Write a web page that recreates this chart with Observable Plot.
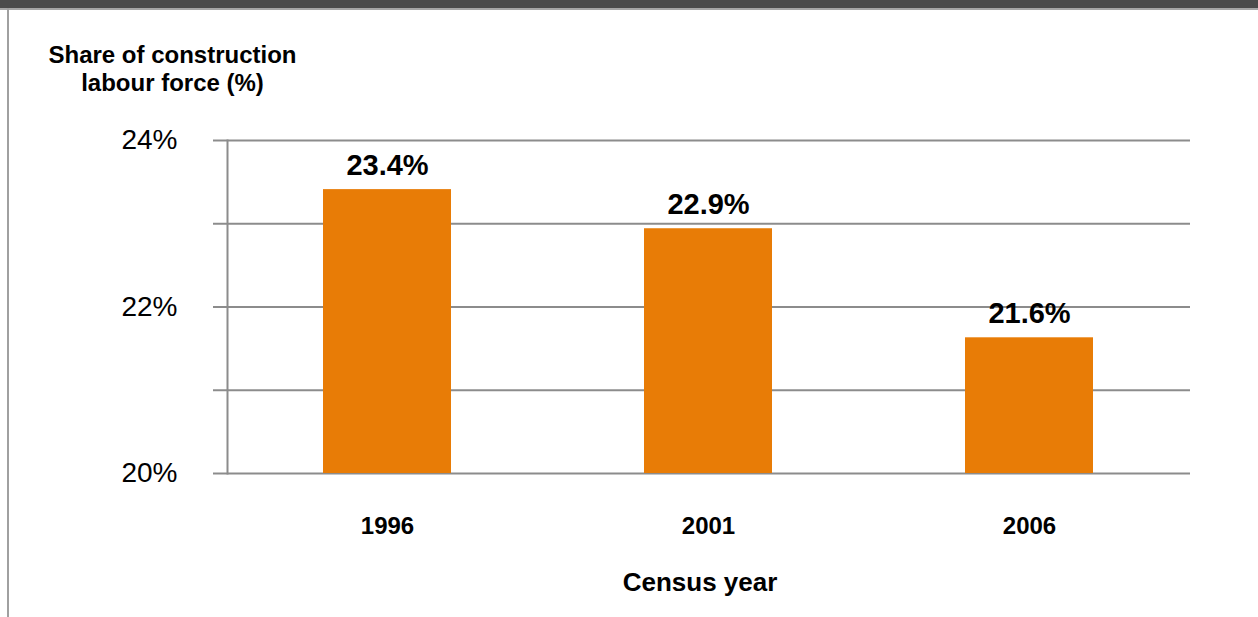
<!DOCTYPE html>
<html>
<head>
<meta charset="utf-8">
<script src="https://cdn.jsdelivr.net/npm/d3@7"></script>
<script src="https://cdn.jsdelivr.net/npm/@observablehq/plot@0.6"></script>
<style>
  html, body { margin: 0; padding: 0; background: #fff; }
  body { width: 1258px; height: 617px; position: relative; overflow: hidden; font-family: Arial, "Liberation Sans", sans-serif; }
  #header { position: absolute; left: 0; top: 0; width: 1258px; height: 8px; background: #4b4b4b; border-bottom: 2px solid #a6a6a6; }
  #leftline { position: absolute; left: 7px; top: 8px; width: 2px; height: 609px; background: #a0a0a0; }
  #chart { position: absolute; left: 0; top: 0; }
  #ytitle { position: absolute; left: 0; top: 41px; width: 345px; text-align: center; font-weight: bold; font-size: 24px; line-height: 28px; color: #000; }
  #xtitle { position: absolute; left: 550px; top: 567px; width: 300px; text-align: center; font-weight: bold; font-size: 26px; line-height: 30px; color: #000; }
</style>
</head>
<body>
<div id="header"></div>
<div id="leftline"></div>
<div id="chart"></div>
<div id="ytitle">Share of construction<br>labour force (%)</div>
<div id="xtitle">Census year</div>
<script>
const years = ["1996", "2001", "2006"];
const shares = [23.41, 22.94, 21.63];
const valueLabels = ["23.4%", "22.9%", "21.6%"];
const yTicks = [20, 21, 22, 23, 24];
const yTickLabels = ["20%", "", "22%", "", "24%"];

const data = years.map((y, i) => ({year: y, share: shares[i], label: valueLabels[i]}));
const grid = "#8c8c8c";

const chart = Plot.plot({
  width: 1258,
  height: 617,
  marginLeft: 227,
  marginRight: 68,
  marginTop: 140,
  marginBottom: 144,
  style: {fontFamily: "Arial, 'Liberation Sans', sans-serif", background: "transparent", color: "#000"},
  x: {domain: years, paddingInner: 0.6, paddingOuter: 0.3},
  y: {domain: [20, 24]},
  marks: [
    Plot.ruleY(yTicks, {stroke: grid, strokeWidth: 2}),
    Plot.barY(data, {x: "year", y1: 20, y2: "share", fill: "#E87C06"}),
    Plot.text(data, {x: "year", y: "share", text: "label", dy: -24, fontSize: 29, fontWeight: "bold", fill: "#000"}),
    Plot.axisY({ticks: yTicks, tickSize: 14, tickFormat: () => "", stroke: grid, strokeWidth: 2, label: null}),
    Plot.axisY({ticks: yTicks, tickSize: 0, tickPadding: 50, tickFormat: (d) => yTickLabels[yTicks.indexOf(d)], fontSize: 28, fill: "#000", label: null}),
    Plot.frame({anchor: "left", stroke: grid, strokeWidth: 2}),
    Plot.axisX({tickSize: 0, tickPadding: 43, fontSize: 24, fontWeight: "bold", fill: "#000", label: null})
  ]
});
document.getElementById("chart").appendChild(chart);
</script>
</body>
</html>
